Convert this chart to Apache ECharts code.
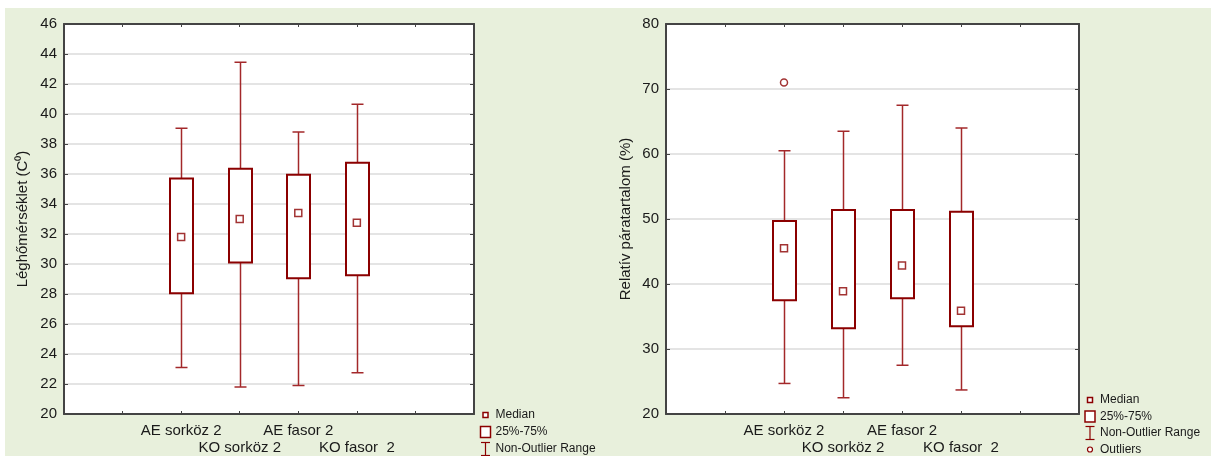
<!DOCTYPE html>
<html>
<head>
<meta charset="utf-8">
<script src="https://cdn.jsdelivr.net/npm/echarts@6/dist/echarts.min.js"></script>
<style>
  html, body { margin: 0; padding: 0; background: #fff; }
  #chart {
    width: 1211px; height: 456px;
    background: linear-gradient(#e8f0dc, #e8f0dc) 5px 8px / 100% 100% no-repeat, #fff;
  }
</style>
</head>
<body>
<div id="chart"></div>
<script>
// Groups shown on both panels
const groups = ['AE sorköz 2', 'KO sorköz 2', 'AE fasor 2', 'KO fasor  2'];

// Air temperature (°C): non-outlier range, quartiles and median
const tempMin    = [23.1, 21.8, 21.9, 22.75];
const tempQ1     = [28.05, 30.1, 29.05, 29.25];
const tempMedian = [31.8, 33.0, 33.4, 32.75];
const tempQ3     = [35.7, 36.35, 35.95, 36.75];
const tempMax    = [39.05, 43.45, 38.8, 40.65];

// Relative humidity (%)
const humMin    = [24.7, 22.5, 27.5, 23.7];
const humQ1     = [37.5, 33.2, 37.8, 33.5];
const humMedian = [45.5, 38.9, 42.85, 35.9];
const humQ3     = [49.7, 51.4, 51.4, 51.1];
const humMax    = [60.5, 63.5, 67.5, 64.0];
// outliers as [group index, value]
const humOutliers = [[0, 71.0]];

// Axis ranges
const tempAxis = { min: 20, max: 46, interval: 2 };
const humAxis  = { min: 20, max: 80, interval: 10 };

// two empty slots either side of the groups on the category axis
const PAD = 2;
const categories = ['', ''].concat(groups, ['', '']);

const FONT = "'Liberation Sans', Arial, sans-serif";
const DARK = '#8b0000';
const WHISK = '#a3282a';
const AXIS = '#444';

function boxData(mn, q1, q3, mx) {
  return groups.map((g, i) => [i + PAD, mn[i], q1[i], q3[i], mx[i]]);
}

function renderBox(params, api) {
  const x = api.value(0);
  const pMin = api.coord([x, api.value(1)]);
  const pQ1 = api.coord([x, api.value(2)]);
  const pQ3 = api.coord([x, api.value(3)]);
  const pMax = api.coord([x, api.value(4)]);
  const cx = Math.round(pMin[0]) + 0.5;
  const bw = 23, cw = 12;
  const ws = { stroke: WHISK, lineWidth: 1.5 };
  return {
    type: 'group',
    children: [
      { type: 'line', shape: { x1: cx, y1: pMax[1], x2: cx, y2: pQ3[1] }, style: ws },
      { type: 'line', shape: { x1: cx - cw / 2, y1: pMax[1], x2: cx + cw / 2, y2: pMax[1] }, style: ws },
      { type: 'line', shape: { x1: cx, y1: pQ1[1], x2: cx, y2: pMin[1] }, style: ws },
      { type: 'line', shape: { x1: cx - cw / 2, y1: pMin[1], x2: cx + cw / 2, y2: pMin[1] }, style: ws },
      { type: 'rect', shape: { x: cx - bw / 2, y: pQ3[1], width: bw, height: pQ1[1] - pQ3[1] },
        style: { fill: '#fff', stroke: DARK, lineWidth: 2 } }
    ]
  };
}

function xAxes(gi) {
  const base = {
    type: 'category', gridIndex: gi, data: categories, boundaryGap: false,
    axisLine: { show: true, lineStyle: { color: AXIS, width: 2 } },
    axisTick: { show: true, inside: true, length: 3, interval: 0, lineStyle: { color: AXIS, width: 1 } },
    splitLine: { show: false }
  };
  return [
    Object.assign({}, base, {
      position: 'bottom',
      axisLabel: {
        interval: 0, margin: 8, fontSize: 15, lineHeight: 17, color: '#1a1a1a', fontFamily: FONT,
        formatter: (v, i) => (v === '' ? '' : ((i - PAD) % 2 === 1 ? '\n' + v : v))
      }
    }),
    Object.assign({}, base, { position: 'top', axisLabel: { show: false } })
  ];
}

function yAxes(gi, rng, name, gap) {
  const base = {
    type: 'value', gridIndex: gi, min: rng.min, max: rng.max, interval: rng.interval,
    axisLine: { show: true, lineStyle: { color: AXIS, width: 2 } },
    axisTick: { show: true, inside: true, length: 4, lineStyle: { color: AXIS, width: 1 } }
  };
  return [
    Object.assign({}, base, {
      position: 'left',
      name: name, nameLocation: 'middle', nameGap: gap, nameRotate: 90,
      nameTextStyle: { fontSize: 15, color: '#1a1a1a', fontFamily: FONT },
      axisLabel: { margin: 7, fontSize: 15, color: '#1a1a1a', fontFamily: FONT },
      splitLine: { show: true, lineStyle: { color: '#e4e4e4', width: 2 } }
    }),
    Object.assign({}, base, {
      position: 'right', axisLabel: { show: false }, splitLine: { show: false }
    })
  ];
}

function legend(x, y0, step, withOutliers) {
  const tx = x + 10;
  const items = [];
  const txt = (t, y) => ({
    type: 'text', x: tx, y: y,
    style: { text: t, fontSize: 12, fontFamily: FONT, fill: '#1a1a1a', verticalAlign: 'middle' }
  });
  let y = y0;
  items.push({ type: 'rect', shape: { x: x - 2.5, y: y - 2.5, width: 5, height: 5 },
    style: { fill: '#fff', stroke: DARK, lineWidth: 1.5 } });
  items.push(txt('Median', y));
  y += step;
  items.push({ type: 'rect', shape: { x: x - 5, y: y - 5.5, width: 10, height: 11 },
    style: { fill: '#fff', stroke: DARK, lineWidth: 1.5 } });
  items.push(txt('25%-75%', y));
  y += step;
  items.push({ type: 'line', shape: { x1: x, y1: y - 6.5, x2: x, y2: y + 6.5 }, style: { stroke: DARK, lineWidth: 1.2 } });
  items.push({ type: 'line', shape: { x1: x - 4.5, y1: y - 6.5, x2: x + 4.5, y2: y - 6.5 }, style: { stroke: DARK, lineWidth: 1.2 } });
  items.push({ type: 'line', shape: { x1: x - 4.5, y1: y + 6.5, x2: x + 4.5, y2: y + 6.5 }, style: { stroke: DARK, lineWidth: 1.2 } });
  items.push(txt('Non-Outlier Range', y));
  if (withOutliers) {
    y += step;
    items.push({ type: 'circle', shape: { cx: x, cy: y, r: 2.5 }, style: { fill: '#fff', stroke: DARK, lineWidth: 1.2 } });
    items.push(txt('Outliers', y));
  }
  return { type: 'group', children: items };
}

const medianStyle = { color: '#fff', borderColor: DARK, borderWidth: 1.5 };

const option = {
  animation: false,
  backgroundColor: 'transparent',
  grid: [
    { left: 64, top: 24, width: 410, height: 390, show: true, backgroundColor: '#fff', borderWidth: 0 },
    { left: 666, top: 24, width: 413, height: 390, show: true, backgroundColor: '#fff', borderWidth: 0 }
  ],
  xAxis: xAxes(0).concat(xAxes(1)),
  yAxis: yAxes(0, tempAxis, 'Léghőmérséklet (C⁰)', 34).concat(yAxes(1, humAxis, 'Relatív páratartalom (%)', 33)),
  series: [
    { type: 'custom', xAxisIndex: 0, yAxisIndex: 0, renderItem: renderBox,
      encode: { x: 0, y: [1, 2, 3, 4] }, data: boxData(tempMin, tempQ1, tempQ3, tempMax) },
    { type: 'scatter', xAxisIndex: 0, yAxisIndex: 0, z: 5, symbol: 'rect', symbolSize: 7,
      itemStyle: medianStyle, data: tempMedian.map((v, i) => [i + PAD, v]) },
    { type: 'custom', xAxisIndex: 2, yAxisIndex: 2, renderItem: renderBox,
      encode: { x: 0, y: [1, 2, 3, 4] }, data: boxData(humMin, humQ1, humQ3, humMax) },
    { type: 'scatter', xAxisIndex: 2, yAxisIndex: 2, z: 5, symbol: 'rect', symbolSize: 7,
      itemStyle: medianStyle, data: humMedian.map((v, i) => [i + PAD, v]) },
    { type: 'scatter', xAxisIndex: 2, yAxisIndex: 2, z: 5, symbol: 'circle', symbolSize: 7,
      itemStyle: medianStyle, data: humOutliers.map(o => [o[0] + PAD, o[1]]) }
  ],
  graphic: [
    legend(485.5, 415, 17, false),
    legend(1090, 400, 16.5, true)
  ]
};

const chart = echarts.init(document.getElementById('chart'), null, { renderer: 'canvas' });
chart.setOption(option);
</script>
</body>
</html>
